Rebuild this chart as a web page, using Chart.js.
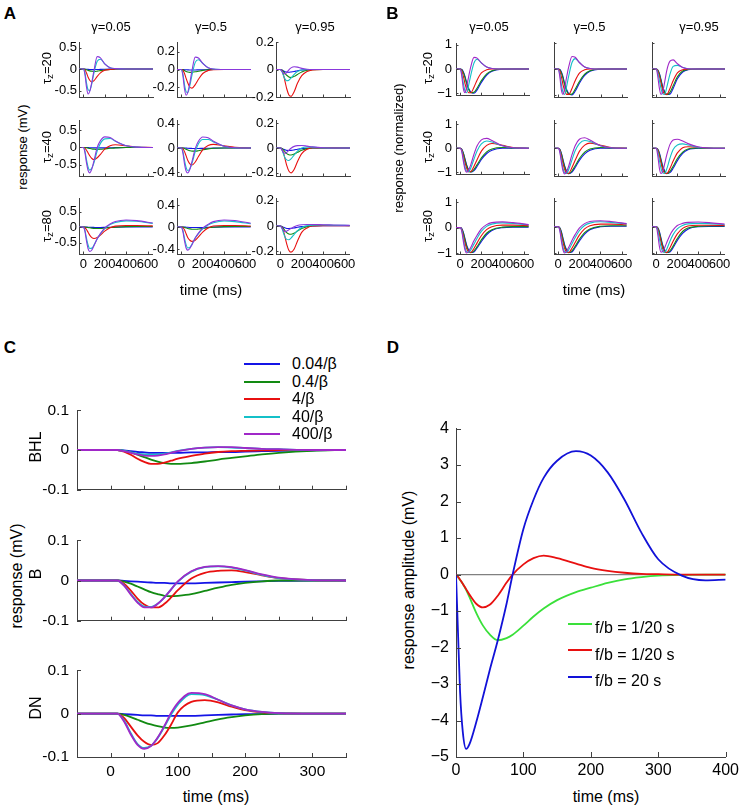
<!DOCTYPE html>
<html><head><meta charset="utf-8">
<script src="https://cdn.jsdelivr.net/npm/chart.js@4.4.1/dist/chart.umd.min.js"></script>
<style>
html,body{margin:0;padding:0;background:#fff;}
#fig{position:relative;width:742px;height:809px;overflow:hidden;font-family:'Liberation Sans',Arial,Helvetica,sans-serif;color:#000;background:#fff;}
.t{position:absolute;transform:translate(-50%,-50%);white-space:nowrap;line-height:1;}
.r{transform:translate(-50%,-50%) rotate(-90deg);}
.l{position:absolute;transform:translate(0,-50%);white-space:nowrap;line-height:1;}
.b{font-weight:bold;}
.sw{position:absolute;height:2px;transform:translate(0,-50%);}
sub{font-size:0.75em;vertical-align:-0.3em;line-height:0;}
</style></head><body><div id="fig"></div>
<script>
// ---------------- DATA ----------------
// series order in every subplot: [blue, green, red, cyan, purple]
const seriesNamesC = ['0.04/β', '0.4/β', '4/β', '40/β', '400/β'];
const gammaLabels = ['γ=0.05', 'γ=0.5', 'γ=0.95'];
const tauLabels = ['20', '40', '80'];

// time grid (ms) for panels A and B
const T_AB = [-40, 0, 15, 30, 45, 60, 80, 100, 130, 160, 200, 250, 300, 400, 500, 650];
const xTicksAB = [0, 200, 400, 600];

// Panel A (mV)
const A_r1c1 = [
  [0,0,0,-0.004,-0.008,-0.011,-0.013,-0.013,-0.011,-0.008,-0.005,-0.002,0,0,0,0],
  [0,0,-0.005,-0.015,-0.03,-0.042,-0.052,-0.055,-0.048,-0.036,-0.02,-0.007,-0.002,0,0,0],
  [0,0,-0.02,-0.09,-0.19,-0.26,-0.3,-0.27,-0.17,-0.09,-0.03,-0.01,0,0,0,0],
  [0,0,-0.08,-0.32,-0.48,-0.5,-0.33,-0.08,0.18,0.23,0.12,0.03,0.01,0,0,0],
  [0,0,-0.12,-0.42,-0.58,-0.52,-0.3,-0.03,0.29,0.26,0.12,0.03,0.01,0,0,0]];
const A_r1c2 = [
  [0,0,0,-0.002,-0.003,-0.004,-0.005,-0.005,-0.005,-0.004,-0.003,-0.001,0,0,0,0],
  [0,0,-0.004,-0.012,-0.022,-0.028,-0.032,-0.031,-0.026,-0.019,-0.01,-0.003,0,0,0,0],
  [0,0,-0.01,-0.045,-0.1,-0.15,-0.2,-0.21,-0.17,-0.11,-0.045,-0.012,-0.002,0,0,0],
  [0,0,-0.05,-0.17,-0.25,-0.26,-0.18,-0.06,0.08,0.11,0.07,0.02,0.005,0,0,0],
  [0,0,-0.07,-0.22,-0.29,-0.26,-0.15,-0.01,0.14,0.13,0.07,0.02,0.005,0,0,0]];
const A_r1c3 = [
  [0,0,-0.004,-0.01,-0.016,-0.019,-0.02,-0.018,-0.014,-0.009,-0.004,-0.001,0,0,0,0],
  [0,0,-0.004,-0.016,-0.03,-0.042,-0.054,-0.058,-0.05,-0.036,-0.018,-0.006,-0.001,0,0,0],
  [0,0,-0.01,-0.04,-0.09,-0.14,-0.185,-0.195,-0.16,-0.1,-0.045,-0.015,-0.004,0,0,0],
  [0,0,-0.015,-0.045,-0.07,-0.082,-0.078,-0.062,-0.035,-0.015,-0.003,0,0,0,0,0],
  [0,0,-0.012,-0.028,-0.032,-0.022,-0.002,0.012,0.02,0.017,0.008,0.002,0,0,0,0]];
const A_r2c1 = [
  [0,0,0,0,-0.004,-0.007,-0.009,-0.011,-0.012,-0.012,-0.01,-0.007,-0.004,0,0,0],
  [0,0,0,-0.008,-0.018,-0.028,-0.04,-0.048,-0.055,-0.052,-0.04,-0.024,-0.01,0,0,0],
  [0,0,-0.02,-0.08,-0.16,-0.24,-0.32,-0.35,-0.3,-0.2,-0.05,0.05,0.08,0.05,0.015,0],
  [0,0,-0.1,-0.36,-0.57,-0.66,-0.6,-0.44,-0.1,0.12,0.25,0.26,0.18,0.05,0.01,0],
  [0,0,-0.14,-0.45,-0.67,-0.74,-0.62,-0.38,0,0.2,0.31,0.29,0.19,0.05,0.01,0]];
const A_r2c2 = [
  [0,0,0,0,-0.002,-0.004,-0.006,-0.007,-0.008,-0.008,-0.006,-0.004,-0.002,0,0,0],
  [0,0,0,-0.008,-0.02,-0.032,-0.045,-0.052,-0.052,-0.045,-0.03,-0.015,-0.005,0,0,0],
  [0,0,-0.01,-0.06,-0.13,-0.2,-0.26,-0.28,-0.23,-0.14,-0.03,0.04,0.06,0.035,0.01,0],
  [0,0,-0.06,-0.2,-0.32,-0.37,-0.34,-0.25,-0.06,0.07,0.14,0.14,0.1,0.03,0.005,0],
  [0,0,-0.08,-0.26,-0.38,-0.41,-0.35,-0.22,-0.01,0.11,0.18,0.17,0.11,0.03,0.005,0]];
const A_r2c3 = [
  [0,0,-0.004,-0.01,-0.015,-0.019,-0.02,-0.019,-0.015,-0.01,-0.005,-0.002,0,0,0,0],
  [0,0,-0.004,-0.016,-0.032,-0.045,-0.054,-0.056,-0.048,-0.035,-0.018,-0.005,0.001,0.001,0,0],
  [0,0,-0.01,-0.04,-0.09,-0.14,-0.185,-0.2,-0.17,-0.11,-0.045,-0.01,0.003,0.003,0.001,0],
  [0,0,-0.015,-0.05,-0.08,-0.095,-0.1,-0.088,-0.055,-0.025,0,0.008,0.007,0.002,0,0],
  [0,0,-0.015,-0.035,-0.042,-0.035,-0.018,-0.002,0.013,0.019,0.02,0.015,0.009,0.002,0,0]];
const A_r3c1 = [
  [0,0,0,0,-0.004,-0.007,-0.01,-0.011,-0.012,-0.012,-0.01,-0.006,-0.002,0.003,0.005,0.005],
  [0,0,0,-0.006,-0.015,-0.024,-0.034,-0.042,-0.046,-0.044,-0.032,-0.015,-0.002,0.014,0.02,0.02],
  [0,0,-0.02,-0.08,-0.17,-0.26,-0.34,-0.37,-0.34,-0.26,-0.13,-0.02,0.03,0.05,0.05,0.04],
  [0,0,-0.1,-0.36,-0.58,-0.69,-0.68,-0.58,-0.38,-0.22,-0.05,0.08,0.15,0.2,0.19,0.12],
  [0,0,-0.13,-0.45,-0.7,-0.79,-0.74,-0.6,-0.38,-0.21,-0.03,0.1,0.18,0.23,0.21,0.13]];
const A_r3c2 = [
  [0,0,0,0,-0.002,-0.004,-0.006,-0.007,-0.008,-0.008,-0.007,-0.004,-0.001,0.002,0.003,0.003],
  [0,0,0,-0.006,-0.015,-0.024,-0.032,-0.038,-0.04,-0.036,-0.026,-0.012,-0.002,0.009,0.011,0.01],
  [0,0,-0.01,-0.05,-0.12,-0.19,-0.24,-0.26,-0.24,-0.18,-0.09,-0.015,0.02,0.03,0.03,0.02],
  [0,0,-0.06,-0.2,-0.32,-0.38,-0.37,-0.31,-0.2,-0.12,-0.03,0.04,0.08,0.11,0.1,0.06],
  [0,0,-0.08,-0.25,-0.38,-0.42,-0.39,-0.32,-0.2,-0.11,-0.02,0.05,0.1,0.13,0.12,0.07]];
const A_r3c3 = [
  [0,0,-0.004,-0.01,-0.015,-0.019,-0.02,-0.019,-0.015,-0.01,-0.005,-0.002,0,0.002,0.002,0.002],
  [0,0,-0.005,-0.02,-0.038,-0.052,-0.063,-0.065,-0.056,-0.04,-0.02,-0.006,0.002,0.004,0.004,0.003],
  [0,0,-0.01,-0.04,-0.09,-0.14,-0.19,-0.205,-0.18,-0.12,-0.05,-0.015,0,0.003,0.003,0.002],
  [0,0,-0.018,-0.055,-0.088,-0.105,-0.108,-0.095,-0.065,-0.038,-0.012,0.002,0.007,0.008,0.006,0.004],
  [0,0,-0.015,-0.035,-0.044,-0.04,-0.03,-0.02,-0.006,0.004,0.01,0.012,0.012,0.01,0.008,0.005]];
// y ranges and ticks of panel A subplots (row-major)
const A_yRange = [[-0.65,0.63],[-0.31,0.31],[-0.2,0.2],[-0.83,0.8],[-0.46,0.46],[-0.225,0.225],[-0.87,0.94],[-0.49,0.53],[-0.22,0.22]];
const A_yTicks = [[-0.5,0,0.5],[-0.2,0,0.2],[-0.2,0,0.2],[-0.5,0,0.5],[-0.4,0,0.4],[-0.2,0,0.2],[-0.5,0,0.5],[-0.4,0,0.4],[-0.2,0,0.2]];

// Panel B (normalized)
const B_r1c1 = [
  [0,0,-0.02,-0.12,-0.3,-0.55,-0.8,-0.95,-1.0,-0.86,-0.55,-0.25,-0.09,-0.01,0,0],
  [0,0,-0.03,-0.15,-0.35,-0.6,-0.85,-0.98,-0.96,-0.78,-0.48,-0.2,-0.07,0,0,0],
  [0,0,-0.08,-0.3,-0.6,-0.82,-0.98,-0.98,-0.75,-0.45,-0.16,-0.03,0,0,0,0],
  [0,0,-0.2,-0.6,-0.9,-0.98,-0.65,-0.25,0.25,0.4,0.25,0.08,0.02,0,0,0],
  [0,0,-0.3,-0.82,-0.98,-0.75,-0.3,0.1,0.48,0.45,0.25,0.08,0.02,0,0,0]];
const B_r1c2 = [
  [0,0,-0.02,-0.12,-0.3,-0.55,-0.8,-0.95,-1.0,-0.86,-0.55,-0.25,-0.09,-0.01,0,0],
  [0,0,-0.03,-0.15,-0.35,-0.6,-0.85,-0.98,-0.96,-0.78,-0.48,-0.2,-0.07,0,0,0],
  [0,0,-0.08,-0.3,-0.6,-0.82,-0.98,-0.98,-0.75,-0.45,-0.16,-0.03,0,0,0,0],
  [0,0,-0.2,-0.6,-0.9,-0.98,-0.65,-0.25,0.25,0.4,0.25,0.08,0.02,0,0,0],
  [0,0,-0.3,-0.82,-0.98,-0.75,-0.3,0.1,0.48,0.45,0.25,0.08,0.02,0,0,0]];
const B_r1c3 = [
  [0,0,-0.04,-0.17,-0.4,-0.65,-0.88,-0.98,-0.97,-0.75,-0.38,-0.12,-0.03,0,0,0],
  [0,0,-0.05,-0.2,-0.45,-0.7,-0.9,-0.99,-0.9,-0.65,-0.3,-0.08,-0.02,0,0,0],
  [0,0,-0.08,-0.28,-0.55,-0.8,-0.97,-0.98,-0.75,-0.45,-0.15,-0.03,0,0,0,0],
  [0,0,-0.15,-0.45,-0.75,-0.95,-0.98,-0.7,-0.2,0.1,0.14,0.06,0.01,0,0,0],
  [0,0,-0.3,-0.75,-0.98,-0.9,-0.5,-0.05,0.3,0.35,0.2,0.06,0.01,0,0,0]];
const B_r2c1 = [
  [0,0,-0.04,-0.2,-0.44,-0.68,-0.9,-0.99,-0.93,-0.75,-0.47,-0.22,-0.08,0,0,0],
  [0,0,-0.05,-0.22,-0.48,-0.72,-0.92,-0.99,-0.88,-0.68,-0.4,-0.15,-0.03,0.03,0.01,0],
  [0,0,-0.08,-0.32,-0.6,-0.82,-0.98,-0.97,-0.75,-0.47,-0.12,0.12,0.2,0.12,0.03,0],
  [0,0,-0.12,-0.45,-0.78,-0.95,-0.98,-0.82,-0.45,-0.1,0.18,0.3,0.26,0.1,0.02,0],
  [0,0,-0.15,-0.55,-0.88,-1.0,-0.9,-0.68,-0.25,0.1,0.35,0.41,0.32,0.1,0.02,0]];
const B_r2c2 = [
  [0,0,-0.04,-0.2,-0.44,-0.68,-0.9,-0.99,-0.93,-0.75,-0.47,-0.22,-0.08,0,0,0],
  [0,0,-0.05,-0.22,-0.48,-0.72,-0.92,-0.99,-0.88,-0.68,-0.4,-0.15,-0.03,0.03,0.01,0],
  [0,0,-0.08,-0.32,-0.6,-0.82,-0.98,-0.97,-0.75,-0.47,-0.12,0.12,0.2,0.12,0.03,0],
  [0,0,-0.12,-0.45,-0.78,-0.95,-0.98,-0.82,-0.45,-0.1,0.18,0.3,0.26,0.1,0.02,0],
  [0,0,-0.15,-0.55,-0.88,-1.0,-0.9,-0.68,-0.25,0.1,0.35,0.41,0.32,0.1,0.02,0]];
const B_r2c3 = [
  [0,0,-0.04,-0.18,-0.42,-0.67,-0.88,-0.98,-0.95,-0.78,-0.48,-0.2,-0.06,0,0,0],
  [0,0,-0.05,-0.22,-0.47,-0.72,-0.92,-0.99,-0.9,-0.7,-0.4,-0.15,-0.03,0.01,0,0],
  [0,0,-0.08,-0.3,-0.58,-0.82,-0.97,-0.98,-0.78,-0.5,-0.18,0.02,0.06,0.04,0.01,0],
  [0,0,-0.15,-0.48,-0.78,-0.95,-0.98,-0.8,-0.38,-0.05,0.13,0.17,0.13,0.04,0.01,0],
  [0,0,-0.3,-0.78,-0.98,-0.92,-0.6,-0.25,0.15,0.32,0.35,0.28,0.18,0.05,0.01,0]];
const B_r3c1 = [
  [0,0,-0.04,-0.19,-0.43,-0.67,-0.88,-0.98,-0.96,-0.8,-0.55,-0.28,-0.11,0,0.02,0.02],
  [0,0,-0.05,-0.22,-0.47,-0.72,-0.92,-0.99,-0.92,-0.75,-0.48,-0.22,-0.08,0.02,0.04,0.04],
  [0,0,-0.08,-0.32,-0.6,-0.82,-0.97,-0.98,-0.82,-0.6,-0.32,-0.08,0.04,0.1,0.1,0.08],
  [0,0,-0.12,-0.45,-0.78,-0.95,-0.98,-0.88,-0.65,-0.42,-0.15,0.05,0.14,0.19,0.17,0.11],
  [0,0,-0.15,-0.55,-0.88,-1.0,-0.93,-0.78,-0.52,-0.3,-0.05,0.12,0.2,0.23,0.2,0.12]];
const B_r3c2 = [
  [0,0,-0.04,-0.19,-0.43,-0.67,-0.88,-0.98,-0.96,-0.8,-0.55,-0.28,-0.11,0,0.02,0.02],
  [0,0,-0.05,-0.22,-0.47,-0.72,-0.92,-0.99,-0.92,-0.75,-0.48,-0.22,-0.08,0.02,0.04,0.04],
  [0,0,-0.08,-0.32,-0.6,-0.82,-0.97,-0.98,-0.82,-0.6,-0.32,-0.08,0.04,0.1,0.1,0.08],
  [0,0,-0.12,-0.45,-0.78,-0.95,-0.98,-0.88,-0.65,-0.42,-0.15,0.05,0.14,0.19,0.17,0.11],
  [0,0,-0.15,-0.55,-0.88,-1.0,-0.93,-0.78,-0.52,-0.3,-0.05,0.12,0.2,0.23,0.2,0.12]];
const B_r3c3 = [
  [0,0,-0.04,-0.18,-0.42,-0.67,-0.88,-0.98,-0.96,-0.8,-0.52,-0.25,-0.09,0,0.01,0.01],
  [0,0,-0.05,-0.22,-0.47,-0.72,-0.92,-0.99,-0.92,-0.74,-0.45,-0.18,-0.05,0.02,0.03,0.03],
  [0,0,-0.08,-0.3,-0.58,-0.82,-0.97,-0.98,-0.8,-0.55,-0.27,-0.06,0.03,0.06,0.06,0.05],
  [0,0,-0.15,-0.46,-0.76,-0.94,-0.98,-0.85,-0.55,-0.3,-0.08,0.05,0.11,0.13,0.12,0.08],
  [0,0,-0.3,-0.75,-0.97,-0.95,-0.8,-0.6,-0.32,-0.12,0.05,0.13,0.17,0.18,0.16,0.1]];
const B_yRangeRow = [[-1.08,1.04],[-1.08,1.1],[-1.04,1.1]];
const B_yTicks = [-1, 0, 1];

// Panel C (mV)
const T_C = [-50,0,10,20,30,40,50,60,70,80,90,100,120,140,160,180,200,225,250,300,350];
const xTicksC = [-50,0,50,100,150,200,250,300,350];
const yTicksC = [-0.1, 0, 0.1];
const C_BHL = [
  [0,0,0,-0.001,-0.003,-0.005,-0.006,-0.007,-0.007,-0.007,-0.007,-0.007,-0.006,-0.006,-0.005,-0.005,-0.004,-0.003,-0.002,-0.001,0],
  [0,0,0,-0.002,-0.006,-0.012,-0.018,-0.024,-0.029,-0.033,-0.035,-0.035,-0.033,-0.029,-0.024,-0.02,-0.016,-0.011,-0.007,-0.002,0],
  [0,0,0,-0.004,-0.012,-0.022,-0.03,-0.035,-0.035,-0.032,-0.027,-0.022,-0.015,-0.009,-0.005,-0.003,-0.002,-0.001,0,0,0],
  [0,0,0,-0.002,-0.006,-0.009,-0.011,-0.012,-0.011,-0.009,-0.006,-0.002,0.003,0.006,0.007,0.006,0.005,0.003,0.002,0,0],
  [0,0,0,-0.003,-0.007,-0.011,-0.014,-0.015,-0.014,-0.011,-0.007,-0.003,0.003,0.006,0.007,0.007,0.005,0.003,0.002,0,0]];
const C_B = [
  [0,0,0,-0.001,-0.002,-0.003,-0.004,-0.005,-0.006,-0.006,-0.007,-0.007,-0.007,-0.006,-0.005,-0.004,-0.003,-0.002,-0.001,0,0],
  [0,0,0,-0.003,-0.008,-0.015,-0.022,-0.029,-0.034,-0.038,-0.039,-0.038,-0.034,-0.026,-0.018,-0.011,-0.006,-0.002,0,0,0],
  [0,0,0,-0.008,-0.025,-0.045,-0.06,-0.067,-0.067,-0.058,-0.042,-0.024,0.005,0.019,0.024,0.025,0.021,0.013,0.006,0.001,0],
  [0,0,0,-0.012,-0.033,-0.053,-0.065,-0.066,-0.058,-0.042,-0.022,-0.003,0.022,0.033,0.035,0.032,0.025,0.014,0.006,0.001,0],
  [0,0,0,-0.013,-0.035,-0.055,-0.067,-0.067,-0.058,-0.042,-0.022,-0.002,0.023,0.034,0.036,0.033,0.026,0.015,0.007,0.001,0]];
const C_DN = [
  [0,0,0,-0.001,-0.002,-0.003,-0.004,-0.004,-0.005,-0.005,-0.005,-0.005,-0.005,-0.004,-0.003,-0.002,-0.001,-0.001,0,0,0],
  [0,0,0,-0.003,-0.008,-0.014,-0.02,-0.025,-0.029,-0.032,-0.033,-0.032,-0.027,-0.02,-0.013,-0.008,-0.004,-0.001,0,0,0],
  [0,0,0,-0.01,-0.03,-0.05,-0.065,-0.072,-0.068,-0.05,-0.025,0.003,0.027,0.031,0.026,0.016,0.008,0.003,0.001,0,0],
  [0,0,0,-0.016,-0.045,-0.07,-0.079,-0.074,-0.056,-0.03,-0.002,0.021,0.045,0.043,0.032,0.019,0.01,0.004,0.001,0,0],
  [0,0,0,-0.018,-0.048,-0.072,-0.081,-0.075,-0.055,-0.028,0.002,0.025,0.048,0.045,0.032,0.019,0.01,0.004,0.001,0,0]];

// Panel D (mV)
const T_D = [0,3,6,10,15,20,30,40,50,62,75,84,100,115,130,150,178,200,225,250,275,300,335,370,400];
const D_labels = ['f/b = 1/20 s', 'f/b = 1/20 s', 'f/b = 20 s'];
const D_green = [0,-0.07,-0.15,-0.25,-0.42,-0.62,-1.05,-1.4,-1.64,-1.8,-1.74,-1.65,-1.4,-1.15,-0.93,-0.7,-0.48,-0.36,-0.23,-0.13,-0.07,-0.03,-0.008,0,0];
const D_red = [0,-0.06,-0.14,-0.25,-0.4,-0.55,-0.8,-0.9,-0.83,-0.58,-0.22,0,0.28,0.45,0.52,0.45,0.3,0.18,0.1,0.05,0.02,0.01,0,0,0];
const D_blue = [0,-1.6,-3.2,-4.3,-4.78,-4.65,-4.05,-3.35,-2.62,-1.8,-0.8,0,1.25,2.05,2.65,3.12,3.38,3.26,2.8,2.05,1.15,0.42,-0.03,-0.16,-0.14];
const D_zero = [0, 0];
const D_zeroT = [0, 400];
const xTicksD = [0,100,200,300,400];
const yTicksD = [-5,-4,-3,-2,-1,0,1,2,3,4];

// ---------------- STYLE ----------------
const FONT = "'Liberation Sans', Arial, Helvetica, sans-serif";
Chart.defaults.font.family = FONT;
Chart.defaults.color = '#000';
const COL5 = ['#1414e6', '#128a12', '#e81010', '#14c0c8', '#a028c8'];
const COL5A = ['#1414e6', '#128a12', '#e81010', '#14c0c8', '#8a38dc'];
const COLD = ['#3ae03a', '#e81010', '#1212d8'];
const AXIS = '#404040';
const fig = document.getElementById('fig');

const inTicks = {
  id: 'inTicks',
  afterDraw(chart, args, opt) {
    const {ctx, chartArea: a, scales} = chart;
    const len = opt.len || 3;
    ctx.save();
    ctx.strokeStyle = AXIS;
    ctx.lineWidth = 1;
    ctx.beginPath();
    scales.x.ticks.forEach(t => {
      const px = Math.round(scales.x.getPixelForValue(t.value)) + 0.5;
      ctx.moveTo(px, a.bottom); ctx.lineTo(px, a.bottom - len);
    });
    scales.y.ticks.forEach(t => {
      const py = Math.round(scales.y.getPixelForValue(t.value)) + 0.5;
      ctx.moveTo(a.left, py); ctx.lineTo(a.left + len, py);
    });
    ctx.stroke();
    ctx.restore();
  }
};

function makeChart(s) {
  const aw = s.right - s.left, ah = s.bottom - s.top;
  const W = s.yw + aw + s.padR, H = s.padT + ah + s.xh;
  const c = document.createElement('canvas');
  c.width = W; c.height = H;
  c.style.cssText = `position:absolute;left:${s.left - s.yw}px;top:${s.top - s.padT}px;width:${W}px;height:${H}px;`;
  fig.appendChild(c);
  const n = s.series.length;
  const datasets = s.series.map((vals, i) => ({
    data: (s.ts ? s.ts[i] : s.t).map((x, k) => ({x, y: vals[k]})),
    borderColor: s.colors[i], borderWidth: Array.isArray(s.lw) ? s.lw[i] : s.lw, pointRadius: 0, fill: false,
    cubicInterpolationMode: 'monotone', order: s.orders ? s.orders[i] : n - i
  }));
  new Chart(c, {
    type: 'line',
    data: {datasets},
    plugins: [inTicks],
    options: {
      responsive: false, animation: false, devicePixelRatio: 1, events: [],
      layout: {padding: {top: s.padT, right: s.padR, left: 0, bottom: 0}},
      plugins: {legend: {display: false}, tooltip: {enabled: false}, inTicks: {len: s.tickLen}},
      scales: {
        x: {
          type: 'linear', min: s.xmin, max: s.xmax,
          afterFit: sc => { sc.height = s.xh; },
          afterBuildTicks: sc => { sc.ticks = s.xticks.map(v => ({value: v})); },
          ticks: {display: s.showX, autoSkip: false, maxRotation: 0, minRotation: 0,
                  padding: s.xpad, font: {size: s.fs}, color: '#000',
                  callback: s.xfmt || (v => String(v))},
          grid: {display: false, drawTicks: false},
          border: {display: true, color: AXIS, width: 1}
        },
        y: {
          type: 'linear', min: s.ymin, max: s.ymax,
          afterFit: sc => { sc.width = s.yw; },
          afterBuildTicks: sc => { sc.ticks = s.yticks.map(v => ({value: v})); },
          ticks: {display: s.showY, autoSkip: false, padding: s.ypad, font: {size: s.fs}, color: '#000',
                  callback: s.yfmt || (v => String(v))},
          grid: {display: false, drawTicks: false},
          border: {display: true, color: AXIS, width: 1}
        }
      }
    }
  });
}

// ---------------- PANELS A & B ----------------
const rowsY = [[42, 97], [120, 176], [198, 254]];
const colA = [79, 177, 276];
const colB = [456, 554, 652];
const A_all = [A_r1c1, A_r1c2, A_r1c3, A_r2c1, A_r2c2, A_r2c3, A_r3c1, A_r3c2, A_r3c3];
const B_all = [B_r1c1, B_r1c2, B_r1c3, B_r2c1, B_r2c2, B_r2c3, B_r3c1, B_r3c2, B_r3c3];
const minus = v => String(v).replace('-', '\u2212');

for (let r = 0; r < 3; r++) {
  for (let c = 0; c < 3; c++) {
    const k = r * 3 + c;
    makeChart({
      left: colA[c], right: colA[c] + 74, top: rowsY[r][0], bottom: rowsY[r][1],
      yw: 32, xh: r === 2 ? 18 : 10, padT: 10, padR: 9,
      t: T_AB, series: A_all[k], colors: COL5A, lw: 1.1,
      xmin: -40, xmax: 650, xticks: xTicksAB, showX: r === 2, xpad: 3,
      ymin: A_yRange[k][0], ymax: A_yRange[k][1], yticks: A_yTicks[k], showY: true, ypad: 2,
      fs: 13, tickLen: 2.5
    });
    makeChart({
      left: colB[c], right: colB[c] + 73, top: rowsY[r][0], bottom: rowsY[r][1],
      yw: 22, xh: r === 2 ? 18 : 10, padT: 10, padR: 9,
      t: T_AB, series: B_all[k], colors: COL5, lw: 1.1,
      xmin: -40, xmax: 650, xticks: xTicksAB, showX: r === 2, xpad: 3,
      ymin: B_yRangeRow[r][0], ymax: B_yRangeRow[r][1], yticks: B_yTicks, showY: c === 0, ypad: 4,
      yfmt: minus, fs: 13, tickLen: 2.5
    });
  }
}

// ---------------- PANEL C ----------------
const C_all = [C_BHL, C_B, C_DN];
const C_rows = [[404, 496], [534, 627], [664, 757]];
for (let r = 0; r < 3; r++) {
  makeChart({
    left: 77, right: 346, top: C_rows[r][0], bottom: C_rows[r][1],
    yw: 45, xh: r === 2 ? 26 : 11, padT: 11, padR: 12,
    t: T_C, series: C_all[r], colors: COL5, lw: 1.8,
    xmin: -50, xmax: 350, xticks: xTicksC, showX: r === 2, xpad: 5,
    xfmt: v => (v >= 0 && v <= 300 && v % 100 === 0) ? String(v) : '',
    ymin: -0.1, ymax: 0.1, yticks: yTicksC, showY: true, ypad: 8,
    fs: 15.5, tickLen: 4
  });
}

// ---------------- PANEL D ----------------
makeChart({
  left: 456, right: 727, top: 423, bottom: 757,
  yw: 34, xh: 28, padT: 11, padR: 16,
  ts: [T_D, T_D, T_D, D_zeroT], series: [D_green, D_red, D_blue, D_zero],
  colors: [COLD[0], COLD[1], COLD[2], '#808080'], lw: [1.8, 1.8, 1.8, 1.2], orders: [3, 2, 1, 10],
  xmin: 0, xmax: 400, xticks: xTicksD, showX: true, xpad: 4,
  ymin: -5, ymax: 4, yticks: yTicksD, showY: true, ypad: 7, yfmt: minus,
  fs: 16, tickLen: 5
});

// ---------------- TEXT ----------------
function txt(html, x, y, size, cls) {
  const d = document.createElement('div');
  d.className = cls || 't';
  d.style.left = x + 'px'; d.style.top = y + 'px'; d.style.fontSize = size + 'px';
  d.innerHTML = html;
  fig.appendChild(d);
  return d;
}
function swatch(x1, x2, y, color) {
  const d = document.createElement('div');
  d.className = 'sw';
  d.style.left = x1 + 'px'; d.style.top = y + 'px'; d.style.width = (x2 - x1) + 'px'; d.style.background = color;
  fig.appendChild(d);
}
// Panel A
txt('A', 10, 12.5, 17, 't b');
[111, 211, 315].forEach((x, i) => txt(gammaLabels[i], x, 26, 13));
txt('response (mV)', 21.5, 147, 13, 't r');
[68, 147, 226].forEach((y, i) => txt('τ<sub>z</sub>=' + tauLabels[i], 46, y, 13, 't r'));
txt('time (ms)', 211, 289, 15);
// Panel B
txt('B', 392.5, 12.5, 17, 't b');
[489, 589.5, 699].forEach((x, i) => txt(gammaLabels[i], x, 26, 13));
txt('response (normalized)', 397.5, 147.5, 13, 't r');
[68, 147, 226].forEach((y, i) => txt('τ<sub>z</sub>=' + tauLabels[i], 427, y, 13, 't r'));
txt('time (ms)', 594, 289, 15);
// Panel C
txt('C', 10, 347, 17, 't b');
const legYC = [364.3, 381.7, 399, 416.7, 434.3];
legYC.forEach((y, i) => { swatch(244, 280, y, COL5[i]); txt(seriesNamesC[i], 292, y, 16, 'l'); });
txt('response (mV)', 16.5, 576, 16, 't r');
txt('BHL', 36, 447, 16, 't r');
txt('B', 36, 574, 16, 't r');
txt('DN', 36, 708, 16, 't r');
txt('time (ms)', 216, 797, 16);
// Panel D
txt('D', 393, 346.7, 17, 't b');
txt('response amplitude (mV)', 409, 580, 16, 't r');
txt('time (ms)', 606, 797, 16);
const legYD = [623.5, 650, 676.7];
legYD.forEach((y, i) => { swatch(568, 592, y, COLD[i]); txt(D_labels[i], 595, y + 4.5, 16, 'l'); });
</script></body></html>
